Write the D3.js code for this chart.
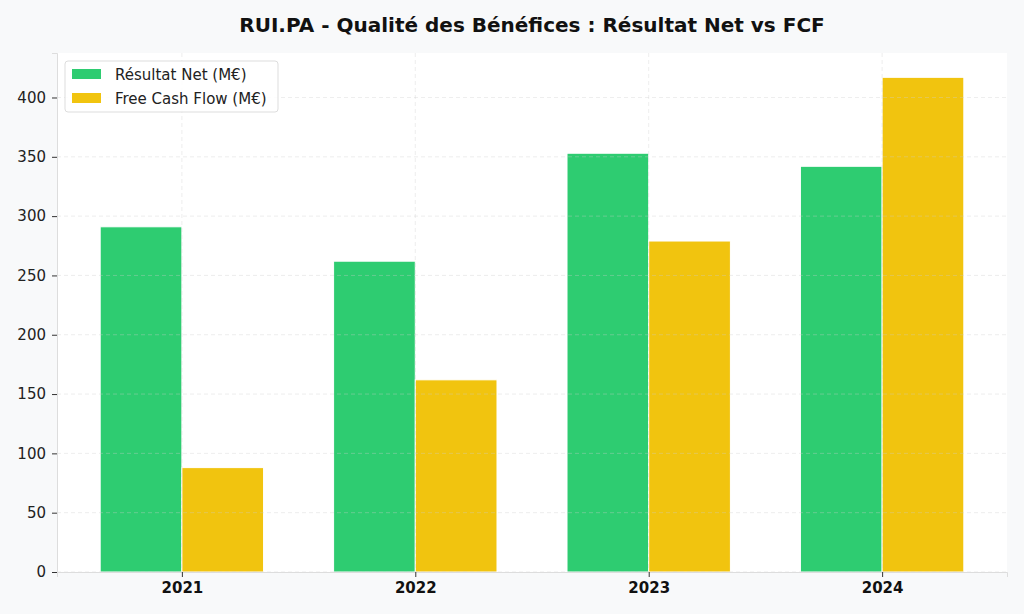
<!DOCTYPE html>
<html><head><meta charset="utf-8">
<script src="https://cdn.jsdelivr.net/npm/d3@7"></script>
<style>body{margin:0;background:#f8f9fa;}svg{display:block;font-family:"DejaVu Sans",sans-serif;}</style>
</head><body>
<svg id="c" width="1024" height="614"></svg>
<script>
const years = ["2021","2022","2023","2024"];
const netIncome = [291, 262, 353, 342];
const freeCashFlow = [88, 162, 279, 417];
const yTicks = [0,50,100,150,200,250,300,350,400];
const seriesNames = ["Résultat Net (M€)","Free Cash Flow (M€)"];
const colors = ["#2ecc71","#f1c40f"];

const svg = d3.select("#c");
const L=57, R=1007, T=53, B=572;
svg.append("rect").attr("width",1024).attr("height",614).attr("fill","#f8f9fa");
svg.append("rect").attr("x",L).attr("y",T).attr("width",R-L).attr("height",B-T).attr("fill","#ffffff");

const x = d3.scaleLinear().domain([-0.535,3.535]).range([L,R]);
const y = d3.scaleLinear().domain([0,437.5]).range([B,T]);
const w = 0.35;

// bars
const series=[netIncome,freeCashFlow];
series.forEach((vals,si)=>{
  svg.append("g").selectAll("rect").data(vals).join("rect")
    .attr("x",(d,i)=>x(i + (si===0?-w:0)))
    .attr("width",x(w)-x(0))
    .attr("y",d=>y(d)).attr("height",d=>y(0)-y(d))
    .attr("fill",colors[si]).attr("stroke","#ffffff").attr("stroke-width",1);
});

// grid
const grid = svg.append("g").attr("stroke","#cccccc").attr("stroke-opacity",0.45).attr("stroke-dasharray","4,3").attr("stroke-width",0.8);
yTicks.forEach(t=>grid.append("line").attr("x1",L).attr("x2",R).attr("y1",y(t)).attr("y2",y(t)));
years.forEach((d,i)=>grid.append("line").attr("x1",x(i)).attr("x2",x(i)).attr("y1",T).attr("y2",B));

// axes
const ya = svg.append("g").attr("transform",`translate(${L},0)`)
  .call(d3.axisLeft(y).tickValues(yTicks).tickSize(5).tickPadding(6));
ya.select(".domain").attr("stroke","#dddddd");
ya.selectAll(".tick line").attr("stroke","#333");
ya.selectAll("text").attr("font-size",15).attr("fill","#222").attr("font-family","DejaVu Sans");

const xa = svg.append("g").attr("transform",`translate(0,${B})`)
  .call(d3.axisBottom(x).tickValues([0,1,2,3]).tickFormat(i=>years[i]).tickSize(5).tickPadding(5));
xa.select(".domain").attr("stroke","#dddddd");
xa.selectAll(".tick line").attr("stroke","#333");
xa.selectAll("text").attr("font-size",15).attr("font-weight","bold").attr("fill","#111").attr("font-family","DejaVu Sans");

// title
svg.append("text").attr("x",532).attr("y",32).attr("text-anchor","middle")
  .attr("font-size",20).attr("font-weight","bold").attr("fill","#111")
  .text("RUI.PA - Qualité des Bénéfices : Résultat Net vs FCF");

// legend
const lg = svg.append("g");
lg.append("rect").attr("x",65).attr("y",61).attr("width",213).attr("height",51).attr("rx",3)
  .attr("fill","#ffffff").attr("fill-opacity",0.85).attr("stroke","#dddddd");
seriesNames.forEach((n,i)=>{
  lg.append("rect").attr("x",72).attr("y",69+i*24).attr("width",29).attr("height",10).attr("fill",colors[i]);
  lg.append("text").attr("x",115).attr("y",79.5+i*24).attr("font-size",15).attr("fill","#222").text(n);
});
</script>
</body></html>
